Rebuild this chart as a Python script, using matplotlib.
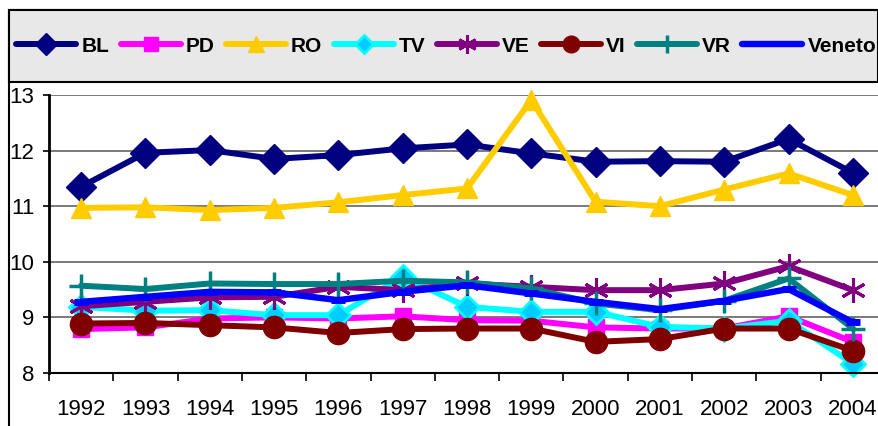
import matplotlib
matplotlib.use("Agg")
import matplotlib.pyplot as plt
from matplotlib.patches import Rectangle
from matplotlib.lines import Line2D

years = ["1992", "1993", "1994", "1995", "1996", "1997", "1998",
         "1999", "2000", "2001", "2002", "2003", "2004"]
BL = [11.35, 11.96, 12.01, 11.85, 11.92, 12.04, 12.11, 11.95, 11.80, 11.81, 11.80, 12.21, 11.60]
PD = [8.79, 8.82, 8.98, 9.00, 8.98, 9.02, 8.95, 8.94, 8.82, 8.80, 8.80, 9.02, 8.56]
RO = [10.97, 10.98, 10.93, 10.97, 11.07, 11.20, 11.32, 12.91, 11.08, 11.00, 11.30, 11.59, 11.20]
TV = [9.19, 9.12, 9.13, 9.04, 9.04, 9.73, 9.19, 9.10, 9.10, 8.83, 8.80, 8.94, 8.17]
VE = [9.20, 9.28, 9.36, 9.37, 9.55, 9.49, 9.61, 9.55, 9.49, 9.49, 9.61, 9.92, 9.49]
VI = [8.89, 8.90, 8.86, 8.82, 8.72, 8.79, 8.80, 8.80, 8.56, 8.61, 8.80, 8.80, 8.40]
VR = [9.57, 9.51, 9.61, 9.60, 9.60, 9.66, 9.63, 9.52, 9.25, 9.13, 9.30, 9.70, 8.80]
Veneto = [9.28, 9.37, 9.46, 9.45, 9.31, 9.46, 9.58, 9.43, 9.28, 9.15, 9.30, 9.51, 8.91]
yticks = [8, 9, 10, 11, 12, 13]

W, H = 879, 426
fig = plt.figure(figsize=(W / 100, H / 100), dpi=100)

# outer frame and legend box
fig.patches.append(Rectangle((9 / W, -0.1), 2, 1.1 - 10 / H, transform=fig.transFigure,
                             facecolor="none", edgecolor="black", lw=1.5, zorder=-1))
fig.patches.append(Rectangle((9 / W, 1 - 82 / H), (878 - 9) / W, 72 / H, transform=fig.transFigure,
                             facecolor="#e8e8e8", edgecolor="black", lw=1.5, zorder=1))

ax = fig.add_axes([49 / W, 53 / H, 836 / W, 278 / H])
ax.patch.set_alpha(0)
x = list(range(len(years)))

series = [
    ("BL", BL, dict(color="#000080", marker="D", ms=15, mfc="#000080", mec="#000080", lw=4.3), 0.75),
    ("PD", PD, dict(color="#ff00ff", marker="s", ms=11, mfc="#ff00ff", mec="#ff00ff", lw=4.3), 0.95),
    ("RO", RO, dict(color="#ffcc00", marker="^", ms=15, mfc="#ffcc00", mec="#ffcc00", lw=4.3), 0.8),
    ("TV", TV, dict(color="#00ffff", marker="D", ms=12, mfc="#00ccff", mec="#00ffff", mew=2, lw=4.3), 0.8),
    ("VE", VE, dict(color="#800080", marker=(6, 2, 0), ms=18, mec="#800080", mew=2.2, lw=4.3), 0.75),
    ("VI", VI, dict(color="#800000", marker="o", ms=16, mfc="#800000", mec="#800000", lw=4.3), 0.75),
    ("VR", VR, dict(color="#008080", marker="+", ms=17, mec="#008080", mew=2.5, lw=4.3), 0.75),
    ("Veneto", Veneto, dict(color="#0000ff", marker="_", ms=10, mec="#0000ff", mew=5, lw=4.6), 1.0),
]
handles = []
for name, vals, kw, sc in series:
    ax.plot(x, vals, label=name, solid_capstyle="round", solid_joinstyle="round", clip_on=False, **kw)
    lkw = dict(kw)
    lkw["ms"] = kw["ms"] * sc
    if name == "Veneto":
        lkw["marker"] = "None"
    handles.append(Line2D([0], [0], label=name, solid_capstyle="round", **lkw))

ax.set_xlim(-0.5, len(years) - 0.5)
ax.set_ylim(8, 13)
ax.set_yticks(yticks)
ax.set_yticklabels([str(v) for v in yticks])
ax.set_xticks(x)
ax.set_xticklabels(years)
ax.set_xticks([i - 0.5 for i in range(len(years) + 1)], minor=True)
ax.tick_params(axis="x", which="major", length=0, pad=19, labelsize=16)
ax.tick_params(axis="x", which="minor", length=5.5, width=1.2, direction="out", color="black")
ax.tick_params(axis="y", length=4.5, width=1.2, pad=6, labelsize=16)
for lab in ax.get_xticklabels() + ax.get_yticklabels():
    lab.set_fontfamily("Liberation Sans")

ax.grid(axis="y", color="#707070", lw=1.3)
ax.set_axisbelow(True)
for s in ["top", "right"]:
    ax.spines[s].set_visible(False)
ax.spines["left"].set_linewidth(2)
ax.spines["bottom"].set_linewidth(1.5)

leg = fig.legend(handles=handles, loc="center left", bbox_to_anchor=(8 / W, 1 - 46 / H), ncol=8,
                 frameon=False, handlelength=2.88, handletextpad=0.24, columnspacing=0.55,
                 prop=dict(family="Liberation Sans", weight="bold", size=15), borderaxespad=0)
leg.set_zorder(5)

fig.savefig("out.png", dpi=100)
